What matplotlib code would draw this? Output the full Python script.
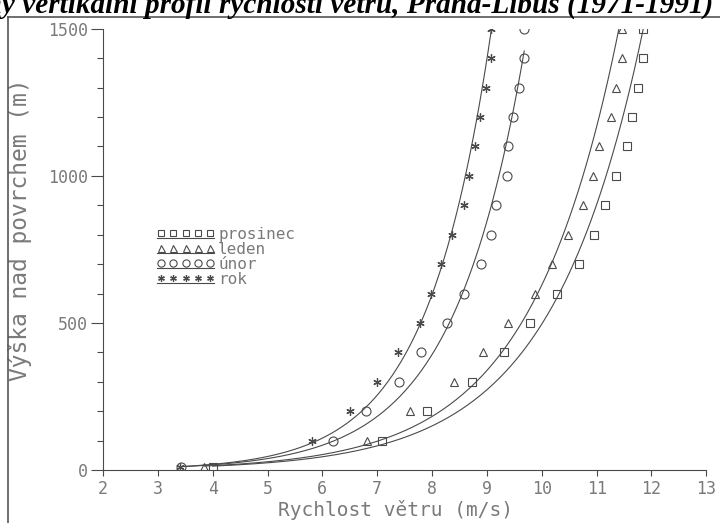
import numpy as np
import matplotlib
matplotlib.use('Agg')
import matplotlib.pyplot as plt
from matplotlib.lines import Line2D
from matplotlib.legend_handler import HandlerBase

# vyska nad povrchem (m)
heights = [10, 100, 200, 300, 400, 500, 600, 700, 800, 900, 1000, 1100, 1200, 1300, 1400, 1500]

# rychlost vetru (m/s)
prosinec = [4.00, 7.09, 7.91, 8.72, 9.32, 9.79, 10.28, 10.67, 10.96, 11.16, 11.36, 11.56, 11.65, 11.76, 11.85, 11.85]
leden = [3.85, 6.81, 7.60, 8.40, 8.92, 9.39, 9.88, 10.18, 10.47, 10.76, 10.94, 11.05, 11.27, 11.36, 11.47, 11.47]
unor = [3.42, 6.20, 6.80, 7.40, 7.80, 8.28, 8.59, 8.90, 9.08, 9.17, 9.37, 9.39, 9.48, 9.59, 9.68, 9.68]
rok = [3.40, 5.82, 6.51, 7.00, 7.38, 7.78, 7.98, 8.17, 8.37, 8.59, 8.68, 8.79, 8.88, 8.98, 9.08, 9.08]

series_names = ['prosinec', 'leden', 'únor', 'rok']
series_vals = [prosinec, leden, unor, rok]
markers = ['s', '^', 'o', (6, 2, 0)]
msizes = [6, 6.3, 6.5, 6]

TXT = '#7a7a7a'
INK = '#4a4a4a'
FONT = 'DejaVu Sans Mono'


class UnderlineHandler(HandlerBase):
    # five markers with a line under them, like the plotter legend
    def create_artists(self, legend, orig_handle, xdescent, ydescent,
                       width, height, fontsize, trans):
        x0 = -xdescent + 3
        x1 = width - xdescent - 3
        xs = np.linspace(x0, x1, 5)
        ym = (height - ydescent) / 2
        mk = Line2D(xs, np.full(5, ym), linestyle='none',
                    marker=orig_handle.get_marker(),
                    markersize=orig_handle.get_markersize() * 0.8,
                    markerfacecolor=orig_handle.get_markerfacecolor(),
                    markeredgecolor=orig_handle.get_markeredgecolor(),
                    markeredgewidth=orig_handle.get_markeredgewidth())
        ln = Line2D([x0 - 3, x1 + 3], [ym - height * 0.45] * 2, color=INK, lw=0.8)
        mk.set_transform(trans)
        ln.set_transform(trans)
        return [ln, mk]


fig = plt.figure(figsize=(7.2, 5.23), dpi=100)
ax = fig.add_axes([0.143, 0.101, 0.838, 0.844])

handles = []
for name, vals, m, ms in zip(series_names, series_vals, markers, msizes):
    v = np.array(vals)
    h = np.array(heights, dtype=float)
    if m == (6, 2, 0):
        pts, = ax.plot(v, h, linestyle='none', marker=m, markersize=ms,
                       color=INK, markeredgewidth=0.9)
    else:
        pts, = ax.plot(v, h, linestyle='none', marker=m, markersize=ms,
                       markerfacecolor='none', markeredgecolor=INK,
                       markeredgewidth=0.8)
    handles.append(pts)
    # logaritmicky profil: v = c*ln(h) + d
    c, d = np.polyfit(np.log(h), v, 1)
    vv = np.linspace(v.min(), v.max(), 200)
    ax.plot(vv, np.exp((vv - d) / c), color=INK, lw=0.8)

ax.set_xlim(2, 13)
ax.set_ylim(0, 1500)
ax.set_xticks(range(2, 14))
ax.set_yticks([0, 500, 1000, 1500])
ax.set_yticks(range(0, 1501, 100), minor=True)
ax.tick_params(axis='x', direction='out', length=4, width=0.8, colors=INK,
               labelcolor=TXT, labelsize=12, pad=3)
ax.tick_params(axis='y', which='major', direction='out', length=9, width=0.8,
               colors=INK, labelcolor=TXT, labelsize=12, pad=2)
ax.tick_params(axis='y', which='minor', direction='out', length=4, width=0.8, colors=INK)
for lab in ax.get_xticklabels() + ax.get_yticklabels():
    lab.set_family(FONT)
ax.spines['top'].set_visible(False)
ax.spines['right'].set_visible(False)
ax.spines['left'].set_color(INK)
ax.spines['bottom'].set_color(INK)
ax.spines['left'].set_linewidth(0.8)
ax.spines['bottom'].set_linewidth(0.8)

ax.set_xlabel('Rychlost větru (m/s)', family=FONT, fontsize=14, color=TXT)
ax.xaxis.set_label_coords(0.485, -0.067)
ax.set_ylabel('Výška nad povrchem (m)', family=FONT, fontsize=16.5, color=TXT)
ax.yaxis.set_label_coords(-0.118, 0.545)

leg = ax.legend(handles, series_names, loc='upper left', bbox_to_anchor=(0.076, 0.57),
                frameon=False, handler_map={h: UnderlineHandler() for h in handles},
                handlelength=3.6, handletextpad=0.25, labelspacing=0.0,
                borderpad=0, prop={'family': FONT, 'size': 11.5})
for t in leg.get_texts():
    t.set_color(TXT)

# page frame and cropped heading of the scanned page
fig.add_artist(Line2D([8 / 720, 1], [1 - 17 / 523] * 2, transform=fig.transFigure, color='#555555', lw=1.2))
fig.add_artist(Line2D([8 / 720] * 2, [0, 1 - 17 / 523], transform=fig.transFigure, color='#555555', lw=1.2))
fig.text(0.99, 1 - 13 / 523, 'Průměrný vertikální profil rychlosti větru, Praha-Libuš (1971-1991)',
         ha='right', va='baseline', family='Liberation Serif', fontweight='bold',
         fontstyle='italic', fontsize=21.1, color='black')

fig.savefig('out.png', dpi=100)
